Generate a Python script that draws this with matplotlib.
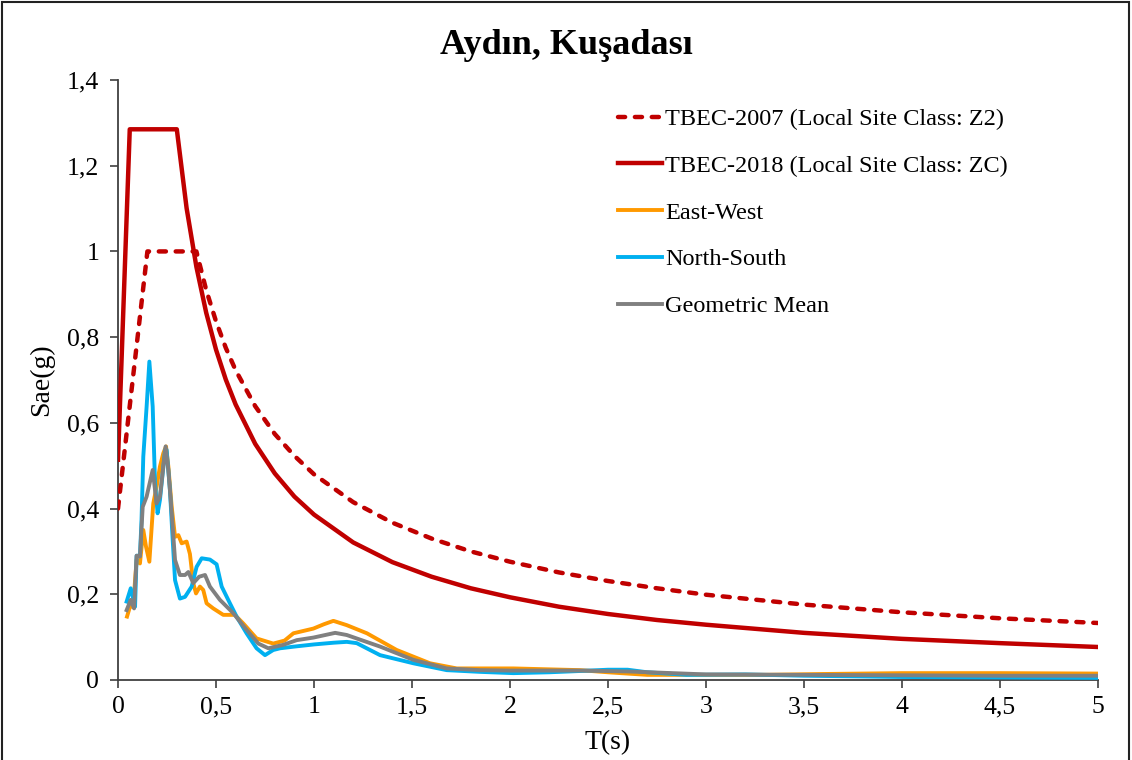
import matplotlib
matplotlib.use("Agg")
import matplotlib.pyplot as plt
from matplotlib.patches import Rectangle

plt.rcParams['font.family'] = ['Liberation Serif', 'DejaVu Serif']

# ---------------- data ----------------
title = "Aydın, Kuşadası"
x_label = "T(s)"
y_label = "Sae(g)"

x_ticks = [0, 0.5, 1, 1.5, 2, 2.5, 3, 3.5, 4, 4.5, 5]
x_tick_labels = ["0", "0,5", "1", "1,5", "2", "2,5", "3", "3,5", "4", "4,5", "5"]
y_ticks = [0, 0.2, 0.4, 0.6, 0.8, 1.0, 1.2, 1.4]
y_tick_labels = ["0", "0,2", "0,4", "0,6", "0,8", "1", "1,2", "1,4"]

labels = ["TBEC-2007 (Local Site Class: Z2)", "TBEC-2018 (Local Site Class: ZC)",
          "East-West", "North-South", "Geometric Mean"]

t_2007 = [0, 0.15, 0.40, 0.45, 0.5, 0.55, 0.6, 0.7, 0.8, 0.9, 1.0, 1.2, 1.4, 1.6, 1.8,
          2.0, 2.25, 2.5, 2.75, 3.0, 3.5, 4.0, 4.5, 5.0]
sa_2007 = [0.40, 1.00, 1.00, 0.910, 0.837, 0.775, 0.723, 0.639, 0.574, 0.523, 0.480, 0.415,
           0.367, 0.330, 0.300, 0.276, 0.251, 0.231, 0.214, 0.199, 0.176, 0.158, 0.144, 0.133]

t_2018 = [0, 0.06, 0.30, 0.35, 0.4, 0.45, 0.5, 0.55, 0.6, 0.7, 0.8, 0.9, 1.0, 1.2, 1.4,
          1.6, 1.8, 2.0, 2.25, 2.5, 2.75, 3.0, 3.5, 4.0, 4.5, 5.0]
sa_2018 = [0.514, 1.285, 1.285, 1.101, 0.964, 0.857, 0.771, 0.701, 0.643, 0.551, 0.482,
           0.428, 0.386, 0.321, 0.275, 0.241, 0.214, 0.193, 0.171, 0.154, 0.140, 0.129,
           0.110, 0.096, 0.086, 0.077]

t_ew = [0.046, 0.061, 0.078, 0.087, 0.095, 0.112, 0.129, 0.143, 0.16, 0.172, 0.18, 0.197,
        0.214, 0.231, 0.245, 0.257, 0.274, 0.291, 0.308, 0.325, 0.35, 0.367, 0.384, 0.398,
        0.418, 0.435, 0.452, 0.486, 0.537, 0.596, 0.639, 0.707, 0.792, 0.85, 0.895, 0.997,
        1.05, 1.099, 1.167, 1.27, 1.422, 1.592, 1.728, 2.017, 2.357, 2.5, 2.7, 3.0, 3.3,
        3.6, 4.0, 4.5, 5.0]
sa_ew = [0.148, 0.171, 0.171, 0.233, 0.28, 0.272, 0.35, 0.311, 0.276, 0.358, 0.412, 0.451,
         0.498, 0.529, 0.545, 0.498, 0.404, 0.334, 0.338, 0.319, 0.323, 0.294, 0.226, 0.202,
         0.218, 0.21, 0.179, 0.167, 0.152, 0.152, 0.132, 0.097, 0.085, 0.092, 0.109, 0.12,
         0.13, 0.138, 0.128, 0.109, 0.07, 0.039, 0.027, 0.027, 0.023, 0.018, 0.012, 0.012,
         0.012, 0.014, 0.016, 0.016, 0.015]

t_ns = [0.044, 0.065, 0.087, 0.095, 0.112, 0.12, 0.129, 0.146, 0.16, 0.177, 0.189, 0.202,
        0.214, 0.24, 0.248, 0.265, 0.279, 0.291, 0.316, 0.342, 0.376, 0.401, 0.427, 0.469,
        0.503, 0.529, 0.571, 0.605, 0.656, 0.707, 0.75, 0.792, 0.827, 0.9, 1.0, 1.1, 1.167,
        1.218, 1.337, 1.507, 1.677, 1.847, 2.017, 2.2, 2.357, 2.5, 2.6, 2.7, 2.9, 3.2, 3.5,
        4.0, 4.5, 5.0]
sa_ns = [0.183, 0.214, 0.171, 0.29, 0.29, 0.373, 0.521, 0.638, 0.743, 0.638, 0.459, 0.389,
         0.42, 0.537, 0.537, 0.443, 0.327, 0.233, 0.19, 0.194, 0.218, 0.264, 0.284, 0.281,
         0.27, 0.218, 0.179, 0.148, 0.109, 0.074, 0.058, 0.07, 0.074, 0.078, 0.083, 0.087,
         0.089, 0.086, 0.058, 0.039, 0.023, 0.019, 0.016, 0.018, 0.021, 0.024, 0.024, 0.018,
         0.012, 0.013, 0.01, 0.007, 0.006, 0.005]

t_gm = [0.044, 0.065, 0.082, 0.095, 0.112, 0.126, 0.146, 0.177, 0.197, 0.214, 0.243, 0.257,
        0.274, 0.291, 0.316, 0.342, 0.359, 0.384, 0.414, 0.444, 0.469, 0.52, 0.588, 0.656,
        0.716, 0.767, 0.843, 0.912, 0.997, 1.108, 1.167, 1.337, 1.507, 1.677, 1.847, 2.0,
        2.357, 2.6, 3.0, 3.5, 4.0, 4.5, 5.0]
sa_gm = [0.163, 0.187, 0.167, 0.29, 0.288, 0.404, 0.428, 0.49, 0.412, 0.428, 0.545, 0.49,
         0.389, 0.28, 0.245, 0.245, 0.252, 0.226, 0.241, 0.245, 0.218, 0.187, 0.156, 0.117,
         0.085, 0.074, 0.082, 0.093, 0.099, 0.11, 0.105, 0.078, 0.047, 0.027, 0.023, 0.022,
         0.022, 0.02, 0.013, 0.012, 0.011, 0.01, 0.01]

# ---------------- plot ----------------
W, H = 1132, 760
fig = plt.figure(figsize=(W / 100, H / 100), dpi=100)
ax = fig.add_axes([118 / W, 1 - 680 / H, 980 / W, 600 / H])

red = "#C00000"
ax.plot(t_2007, sa_2007, color=red, lw=3.2, linestyle=(0, (1.6, 2.2)),
        dash_capstyle='round', solid_joinstyle='round', label=labels[0], zorder=3)
ax.plot(t_2018, sa_2018, color=red, lw=3.2, solid_joinstyle='round', label=labels[1], zorder=3)
ax.plot(t_ew, sa_ew, color="#FF9900", lw=2.8, solid_joinstyle='round', label=labels[2], zorder=4)
ax.plot(t_ns, sa_ns, color="#00B0F0", lw=2.8, solid_joinstyle='round', label=labels[3], zorder=4)
ax.plot(t_gm, sa_gm, color="#808080", lw=2.8, solid_joinstyle='round', label=labels[4], zorder=5)

ax.set_xlim(0, 5)
ax.set_ylim(0, 1.4)
ax.set_xticks(x_ticks)
ax.set_xticklabels(x_tick_labels)
ax.set_yticks(y_ticks)
ax.set_yticklabels(y_tick_labels)
ax.tick_params(axis='both', direction='out', length=5.5, width=1.2, color='#404040',
               labelsize=18.5)
ax.tick_params(axis='y', pad=8)
ax.tick_params(axis='x', pad=6)
for s in ['top', 'right']:
    ax.spines[s].set_visible(False)
for s in ['left', 'bottom']:
    ax.spines[s].set_color('#404040')
    ax.spines[s].set_linewidth(1.3)

fig.text(0.5, 1 - 45 / H, title, ha='center', va='center', fontsize=26, fontweight='bold')
fig.text(42 / W, 1 - 380 / H, y_label, ha='center', va='center', rotation=90, fontsize=20)
fig.text(0.5 * (118 + 1098) / W, 1 - 743 / H, x_label, ha='center', va='center', fontsize=20)

leg = ax.legend(loc='upper left', bbox_to_anchor=(618 / W, 1 - 108 / H),
                bbox_transform=fig.transFigure, frameon=False, fontsize=17.5,
                handlelength=1.8, handletextpad=0.15, labelspacing=1.02,
                borderpad=0, borderaxespad=0)

fig.patches.append(Rectangle((2 / W, -0.05), (W - 5) / W, 1.05 - 2 / H, transform=fig.transFigure,
                             fill=False, edgecolor='#222222', linewidth=1.5))

fig.savefig("out.png", dpi=100, facecolor='white')
